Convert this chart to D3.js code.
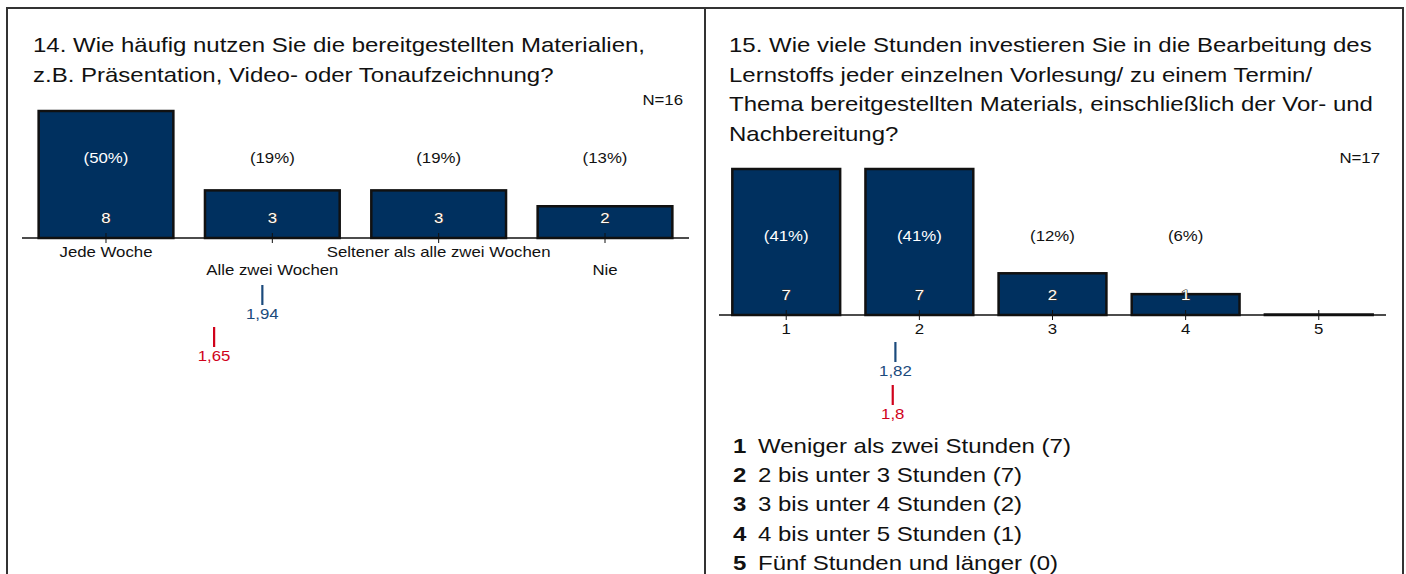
<!DOCTYPE html>
<html>
<head>
<meta charset="utf-8">
<script src="https://cdn.jsdelivr.net/npm/d3@7"></script>
<style>
    body { margin: 0; background: #fff; }
    svg { display: block; font-family: "Liberation Sans", Arial, sans-serif; }
    .title { font-size: 20px; fill: #111; }
    .small { font-size: 14px; fill: #111; }
    .bar { fill: #00305f; stroke: #111; stroke-width: 2.5; }
    .count { fill: #fff; stroke: #333; stroke-width: 1.2; paint-order: stroke; stroke-linejoin: round; }
    .legend { font-size: 20px; fill: #111; }
</style>
</head>
<body>
<div id="chart"></div>
<script>
// question 14
let title14 = ['14. Wie häufig nutzen Sie die bereitgestellten Materialien,',
    'z.B. Präsentation, Video- oder Tonaufzeichnung?'];
let cats14 = ['Jede Woche', 'Alle zwei Wochen', 'Seltener als alle zwei Wochen', 'Nie'];
let counts14 = [8, 3, 3, 2];
let means14 = [1.94, 1.65]; // blue, red

// question 15
let title15 = ['15. Wie viele Stunden investieren Sie in die Bearbeitung des',
    'Lernstoffs jeder einzelnen Vorlesung/ zu einem Termin/',
    'Thema bereitgestellten Materials, einschließlich der Vor- und',
    'Nachbereitung?'];
let cats15 = ['1', '2', '3', '4', '5'];
let counts15 = [7, 7, 2, 1, 0];
let legend15 = ['Weniger als zwei Stunden', '2 bis unter 3 Stunden', '3 bis unter 4 Stunden',
    '4 bis unter 5 Stunden', 'Fünf Stunden und länger'];
let means15 = [1.82, 1.8];

let meanColors = ['#1b4a7c', '#d0021b'];

// the original text is drawn a bit wider than Arial
let stretch = 1.2;
let place = function (sel, fx, fy) {
    return sel.attr('transform', function (d, i) {
        let px = typeof fx === 'function' ? fx(d, i) : fx;
        let py = typeof fy === 'function' ? fy(d, i) : fy;
        return 'translate(' + px + ',' + py + ') scale(' + stretch + ',1)';
    });
};

let svg = d3.select('#chart').append('svg')
    .attr('width', 1406)
    .attr('height', 574);

// frame
svg.append('path')
    .attr('d', 'M7,590 V8 H1403 V590 M705,8 V590')
    .attr('fill', 'none')
    .attr('stroke', '#333')
    .attr('stroke-width', 2);

let draw_panel = function (opt) {
    let g = svg.append('g');
    let n = d3.sum(opt.counts);

    place(g.selectAll('text.title')
        .data(opt.title)
        .enter().append('text')
        .attr('class', 'title')
        .text(d => d), opt.x0, (d, i) => 52 + i * 29.5);

    place(g.append('text')
        .attr('class', 'small')
        .attr('text-anchor', 'end')
        .text('N=' + n), opt.nX, opt.nY);

    let x = d3.scaleBand()
        .domain(opt.cats)
        .range(opt.xRange)
        .paddingInner(0.19)
        .paddingOuter(0.1);
    let y = d3.scaleLinear()
        .domain([0, d3.max(opt.counts)])
        .range([opt.base, opt.top]);

    // bars (empty bars still show their outline on the axis)
    g.selectAll('rect.bar')
        .data(opt.counts)
        .enter().append('rect')
        .attr('class', 'bar')
        .attr('x', (d, i) => x(opt.cats[i]))
        .attr('y', d => Math.min(y(d), opt.base - 0.5))
        .attr('width', x.bandwidth())
        .attr('height', d => Math.max(opt.base - y(d), 0.5));

    // axis line
    g.append('line')
        .attr('x1', opt.xRange[0])
        .attr('x2', opt.xRange[1])
        .attr('y1', opt.base)
        .attr('y2', opt.base)
        .attr('stroke', '#111')
        .attr('stroke-width', 1.3);

    let cx = (d, i) => x(opt.cats[i]) + x.bandwidth() / 2;

    g.selectAll('line.tick')
        .data(opt.cats)
        .enter().append('line')
        .attr('x1', cx).attr('x2', cx)
        .attr('y1', opt.base - 5).attr('y2', opt.base + 5)
        .attr('stroke', '#111')
        .attr('stroke-width', 1);

    // percentages
    place(g.selectAll('text.pct')
        .data(opt.counts)
        .enter().append('text')
        .attr('class', 'small')
        .attr('text-anchor', 'middle')
        .style('fill', d => y(d) < opt.pctY - 12 ? '#fff' : '#111')
        .text(d => d > 0 ? '(' + Math.round(d / n * 100) + '%)' : ''), cx, opt.pctY);

    // counts
    place(g.selectAll('text.count')
        .data(opt.counts)
        .enter().append('text')
        .attr('class', 'small count')
        .attr('text-anchor', 'middle')
        .text(d => d > 0 ? d : ''), cx, opt.base - 15);

    // category labels
    place(g.selectAll('text.cat')
        .data(opt.cats)
        .enter().append('text')
        .attr('class', 'small')
        .attr('text-anchor', 'middle')
        .text(d => d), cx, (d, i) => opt.base + 19 + (opt.stagger ? (i % 2) * 18 : 0));

    // mean markers
    let step = x.step();
    let c0 = cx(null, 0);
    opt.means.forEach(function (m, k) {
        let mx = c0 + (m - 1) * step;
        let top = opt.meanY + k * opt.meanGap;
        g.append('line')
            .attr('x1', mx).attr('x2', mx)
            .attr('y1', top).attr('y2', top + 20)
            .attr('stroke', meanColors[k])
            .attr('stroke-width', 2.2);
        place(g.append('text')
            .attr('class', 'small')
            .attr('text-anchor', 'middle')
            .style('fill', meanColors[k])
            .text(String(m).replace('.', ',')), mx, top + 34);
    });
    return g;
};

draw_panel({
    title: title14, cats: cats14, counts: counts14, means: means14,
    x0: 33, nX: 683, nY: 105,
    xRange: [22, 689], base: 238, top: 111, pctY: 163,
    stagger: true, meanY: 285, meanGap: 42
});

let g15 = draw_panel({
    title: title15, cats: cats15, counts: counts15, means: means15,
    x0: 729, nX: 1380, nY: 163,
    xRange: [719, 1386], base: 315, top: 169, pctY: 241,
    stagger: false, meanY: 342, meanGap: 43
});

// legend for question 15
let leg = g15.selectAll('g.legend')
    .data(legend15)
    .enter().append('g')
    .attr('transform', (d, i) => 'translate(733,' + (453 + i * 29.2) + ')');
leg.append('text')
    .attr('class', 'legend')
    .attr('transform', 'scale(' + stretch + ',1)')
    .style('font-weight', 'bold')
    .text((d, i) => cats15[i]);
leg.append('text')
    .attr('class', 'legend')
    .attr('transform', 'translate(25,0) scale(' + stretch + ',1)')
    .text((d, i) => d + ' (' + counts15[i] + ')');
</script>
</body>
</html>
